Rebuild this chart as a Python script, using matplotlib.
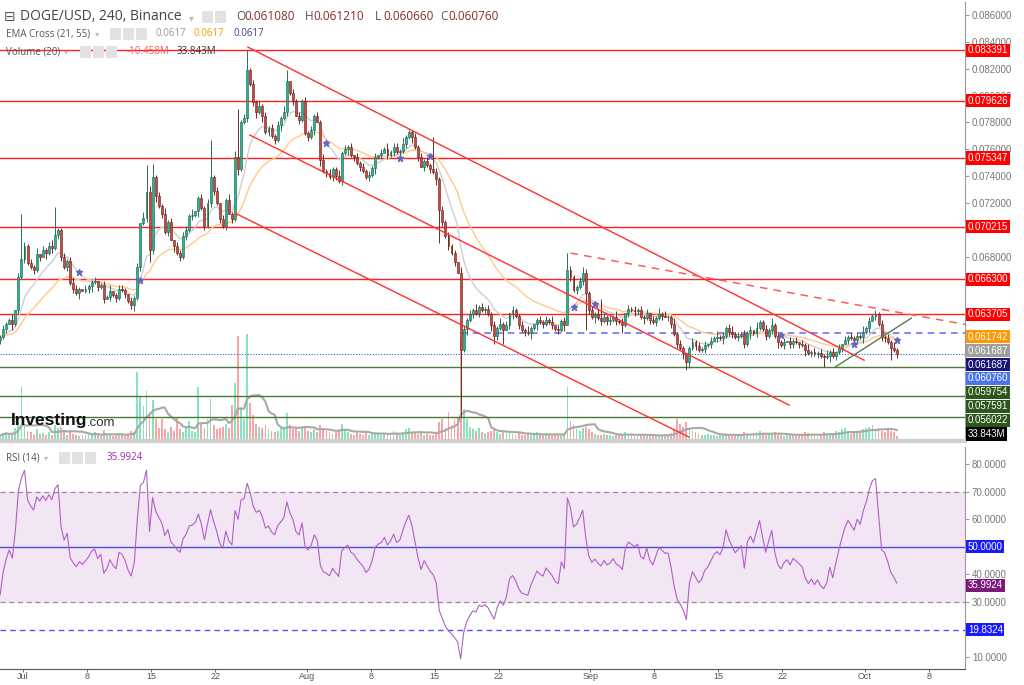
import numpy as np
import pandas as pd
import matplotlib
matplotlib.use('Agg')
import matplotlib.pyplot as plt
import matplotlib.dates as mdates
import matplotlib.ticker as mticker
from matplotlib.patches import Rectangle

plt.rcParams['font.family'] = ['Open Sans', 'DejaVu Sans']

close = [
    6200, 6260, 6300, 6330, 6300, 6400, 6650, 6780, 6880, 6750,
    6720, 6700, 6820, 6800, 6850, 6830, 6880, 6860, 6960, 7000,
    6800, 6720, 6770, 6600, 6560, 6530, 6560, 6540, 6560, 6580,
    6610, 6620, 6570, 6590, 6480, 6500, 6540, 6510, 6490, 6560,
    6550, 6520, 6470, 6440, 6490, 6720, 7050, 7090, 7280, 6850,
    7390, 7250, 7180, 7120, 6980, 7060, 6920, 6880, 6830, 6800,
    6950, 7000, 7100, 7110, 7140, 7240, 7160, 7030, 7200, 7390,
    7290, 7200, 7080, 7030, 7220, 7120, 7080, 7540, 7450, 7800,
    7830, 8190, 8090, 7950, 7880, 7920, 7850, 7730, 7760, 7700,
    7670, 7780, 7830, 7880, 8110, 8020, 7960, 7850, 7820, 7960,
    7720, 7690, 7740, 7850, 7800, 7520, 7440, 7420, 7390, 7450,
    7400, 7360, 7570, 7600, 7620, 7560, 7540, 7500, 7470, 7440,
    7390, 7410, 7460, 7540, 7560, 7570, 7600, 7560, 7580, 7620,
    7580, 7590, 7640, 7690, 7730, 7690, 7620, 7540, 7470, 7510,
    7480, 7450, 7430, 7380, 7150, 7060, 6950, 6880, 6830, 6760,
    6680, 6100, 6260, 6330, 6370, 6400, 6380, 6420, 6400, 6410,
    6370, 6290, 6210, 6270, 6300, 6250, 6290, 6380, 6400, 6360,
    6290, 6250, 6240, 6230, 6270, 6300, 6330, 6310, 6300, 6330,
    6310, 6290, 6260, 6250, 6320, 6290, 6700, 6650, 6550, 6570,
    6620, 6680, 6530, 6400, 6350, 6370, 6340, 6320, 6350, 6320,
    6330, 6350, 6320, 6310, 6290, 6380, 6410, 6400, 6390, 6400,
    6350, 6340, 6380, 6330, 6310, 6340, 6370, 6360, 6350, 6350,
    6300, 6220, 6150, 6120, 6080, 6010, 6120, 6160, 6130, 6100,
    6110, 6140, 6150, 6170, 6190, 6200, 6190, 6210, 6270, 6240,
    6220, 6200, 6210, 6220, 6150, 6230, 6250, 6230, 6270, 6310,
    6260, 6210, 6250, 6290, 6210, 6160, 6140, 6160, 6170, 6150,
    6170, 6160, 6150, 6140, 6100, 6080, 6090, 6070, 6080, 6060,
    6050, 6060, 6090, 6060, 6090, 6120, 6150, 6180, 6200, 6190,
    6180, 6210, 6200, 6240, 6270, 6320, 6360, 6370, 6300, 6200,
    6190, 6160, 6120, 6100, 6076,
]
first_open = 6180

# wick lengths, one digit per bar (units of 0.00015)
up_wick = ("1211302121" "2130212311" "1212321021" "1201213012" "2102120313"
           "2121312021" "2213012123" "1202131321" "2212131212" "1213302121"
           "2121213121" "1312120212" "1212021312" "2131312121" "2102121211"
           "0321213121" "2121312021" "1213101212" "1302120211" "2121213121"
           "2131202121" "2120213121" "1312101212" "1202131212" "3121212031"
           "1213121202" "1202131212" "1312020212" "1213121312" "12131")
dn_wick = ("2120312121" "1212031212" "2121213012" "3121202121" "1212312121"
           "2312120312" "1212131212" "2121202131" "1212313121" "2131212021"
           "1212031212" "2121312121" "1213120212" "1212131202" "1213121212"
           "0213121212" "1312120231" "2121313121" "1212130212" "1202131212"
           "2121312121" "1312121202" "2121313121" "1212021312" "2121213121"
           "1212131202" "2121312121" "2131212021" "1213120212" "21312")
spike_high = {7: 7120, 18: 7170, 48: 7480, 50: 7490, 69: 7670, 78: 7900, 81: 8339,
              94: 8190, 134: 7740, 142: 7690, 186: 6826, 191: 6720, 197: 6480,
              253: 6340, 287: 6400}
spike_low = {49: 6760, 144: 6900, 151: 5600, 162: 6150, 165: 6150, 192: 6250,
             204: 6230, 225: 5953, 270: 5975, 292: 6027}

# volume, millions
volume = [
    40, 55, 60, 45, 50, 90, 160, 370, 120, 70,
    60, 45, 80, 50, 55, 40, 60, 45, 110, 90,
    100, 60, 45, 70, 50, 40, 35, 45, 40, 50,
    45, 60, 40, 35, 75, 45, 40, 35, 50, 45,
    40, 35, 50, 70, 60, 470, 300, 240, 340, 200,
    280, 150, 90, 150, 80, 60, 100, 70, 165, 80,
    60, 90, 140, 70, 60, 370, 120, 90, 150, 290,
    110, 80, 90, 100, 120, 90, 250, 400, 720, 230,
    150, 730, 260, 180, 120, 100, 90, 110, 80, 70,
    60, 70, 90, 80, 190, 110, 80, 90, 70, 100,
    90, 70, 60, 80, 60, 110, 90, 70, 60, 50,
    60, 70, 120, 80, 60, 50, 45, 60, 50, 45,
    60, 45, 50, 60, 55, 45, 50, 40, 45, 70,
    50, 45, 60, 80, 90, 60, 55, 50, 60, 45,
    50, 45, 40, 60, 130, 150, 90, 200, 110, 150,
    160, 700, 220, 150, 100, 80, 70, 90, 60, 55,
    60, 70, 90, 60, 50, 70, 55, 60, 50, 45,
    55, 45, 40, 50, 45, 40, 60, 45, 40, 50,
    45, 40, 50, 45, 40, 45, 370, 140, 110, 80,
    70, 90, 100, 80, 60, 50, 45, 40, 50, 45,
    40, 35, 45, 40, 50, 60, 45, 40, 35, 40,
    45, 40, 35, 40, 45, 40, 35, 40, 45, 40,
    55, 80, 150, 120, 100, 130, 90, 70, 60, 50,
    45, 40, 50, 45, 40, 35, 45, 40, 50, 45,
    40, 35, 45, 50, 60, 45, 40, 45, 60, 70,
    50, 45, 40, 55, 60, 45, 40, 35, 40, 45,
    40, 35, 40, 45, 60, 55, 45, 40, 35, 40,
    60, 50, 45, 55, 70, 60, 80, 90, 60, 50,
    55, 60, 70, 80, 90, 100, 110, 80, 90, 70,
    60, 80, 70, 60, 34,
]

red_levels = [0.083391, 0.079626, 0.075347, 0.070215, 0.066300, 0.063705]
green_levels = [0.059754, 0.057591, 0.056022]
last_price = 0.060760
blue_dash_level = 0.06230
blue_dash_start = '2023-08-17 21:00'

# drawn trend lines: (start, start price, end, end price)
channel_lines = [
    ('2023-07-25 14:00', 0.08362, '2023-09-30 22:00', 0.06027),
    ('2023-07-25 19:00', 0.07706, '2023-09-22 17:30', 0.05692),
    ('2023-07-24 04:00', 0.07124, '2023-09-11 19:00', 0.05453),
]
dashed_line = ('2023-08-29 20:00', 0.06826, '2023-10-12 10:00', 0.06288)
green_trend = ('2023-09-27 18:00', 0.05975, '2023-10-06 02:00', 0.06341)

# EMA cross markers (bar index, price)
cross_idx = [26, 46, 107, 131, 141, 188, 195, 256, 280, 294]
cross_price = [0.06684, 0.06624, 0.07646, 0.07534, 0.07549, 0.06423, 0.06445,
               0.06214, 0.06147, 0.06177]

# RSI: Wilder averages carried in from before the window (gain, loss)
rsi_seed = (0.00010, 0.00024)

price_ticks = np.arange(0.056, 0.0861, 0.002)
rsi_ticks = [10, 30, 40, 50, 60, 70, 80]
x_tick_dates = ['2023-07-01', '2023-07-08', '2023-07-15', '2023-07-22', '2023-08-01',
                '2023-08-08', '2023-08-15', '2023-08-22', '2023-09-01', '2023-09-08',
                '2023-09-15', '2023-09-22', '2023-10-01', '2023-10-08']
x_tick_labels = ['Jul', '8', '15', '22', 'Aug', '8', '15', '22', 'Sep', '8', '15', '22', 'Oct', '8']

# ---- build OHLC ----
t = pd.date_range('2023-06-28 12:00', periods=len(close), freq='8h')
tn = mdates.date2num(t)
c = np.array(close) / 1e5
o = np.r_[first_open / 1e5, c[:-1]]
hi = np.maximum(o, c) + np.array([int(d) for d in up_wick]) * 0.00015
lo = np.minimum(o, c) - np.array([int(d) for d in dn_wick]) * 0.00015
for k, v in spike_high.items():
    hi[k] = v / 1e5
for k, v in spike_low.items():
    lo[k] = v / 1e5
up = c >= o

# indicators (EMA spans halved because bars are 8h instead of 4h)
ema_fast = pd.Series(c).ewm(span=11, adjust=False).mean()
ema_slow = pd.Series(c).ewm(span=28, adjust=False).mean()
vol_ma = pd.Series(volume).rolling(10, min_periods=1).mean()

rsi = []
ag, al = rsi_seed
for dlt in c - o:
    ag = (ag * 13 + max(dlt, 0)) / 14
    al = (al * 13 + max(-dlt, 0)) / 14
    rsi.append(100 - 100 / (1 + ag / al))

# ---- figure ----
fig = plt.figure(figsize=(10.24, 6.85), dpi=100)
main_rect = [0, 0.356, 0.9424, 0.641]
ax_v = fig.add_axes(main_rect)
ax = fig.add_axes(main_rect, sharex=ax_v)
ax.patch.set_visible(False)
ax_v.axis('off')
ax_r = fig.add_axes([0, 0.024, 0.9424, 0.323], sharex=ax_v)

jul1 = mdates.date2num(pd.Timestamp('2023-07-01'))
ax.set_xlim(jul1 - 2.51, jul1 + 102.95)
ax.set_ylim(0.05423, 0.08698)
ax_v.set_ylim(0, 3000)
ax_r.set_ylim(5.8, 86.1)

# volume
ax_v.bar(tn, volume, width=0.2, color=np.where(up, '#86e3bd', '#f7a6a6'), lw=0)
ax_v.plot(tn, vol_ma, color='#a8a8a8', lw=1.5)

# levels
for v in red_levels:
    ax.axhline(v, color='#ff2020', lw=1, zorder=2)
for v in green_levels:
    ax.axhline(v, color='#4a7a34', lw=1, zorder=2)
ax.axhline(last_price, color='#3b5bdb', lw=0.8, ls=(0, (1, 1.5)), zorder=2)
ax.hlines(blue_dash_level, mdates.date2num(pd.Timestamp(blue_dash_start)), ax.get_xlim()[1],
          color='#7070ff', lw=1.2, ls=(0, (4, 3)), zorder=2)

# EMAs
ax.plot(tn, ema_fast, color='#cfcfcf', lw=1, zorder=2)
ax.plot(tn, ema_slow, color='#ffc98a', lw=1, zorder=2)

# candles
ax.vlines(tn, lo, hi, colors=np.where(up, '#2f6e58', '#6e2b27'), lw=0.7, zorder=3)
body = np.where(np.abs(c - o) < 2e-5, 2e-5, c - o)
ax.bar(tn, body, bottom=o, width=0.21, color=np.where(up, '#22b790', '#d0473d'),
       edgecolor=np.where(up, '#1d5846', '#5a1d18'), lw=0.4, zorder=4)

# trend lines
def seg(line, **kw):
    x0, y0, x1, y1 = line
    ax.plot([pd.Timestamp(x0), pd.Timestamp(x1)], [y0, y1], zorder=5, **kw)

for line in channel_lines:
    seg(line, color='#ff3030', lw=1)
seg(dashed_line, color='#ff5a5a', lw=1.1, ls=(0, (5, 4)))
seg(green_trend, color='#5a7a4a', lw=1)

ax.plot(tn[cross_idx], cross_price, ls='none', marker='*', ms=5, color='#6464c8', zorder=6)

# right-side value boxes, stacked so they do not overlap
main_boxes = [(v, '%.6f' % v, '#ff0000') for v in red_levels]
main_boxes += [(0.061742, '0.061742', '#ff9800'), (0.061687, '0.061687', '#9e9e9e'),
               (0.061687, '0.061687', '#16167a'), (last_price, '0.060760', '#4a74e8')]
main_boxes += [(v, '%.6f' % v, '#2d561b') for v in green_levels]
px = [ax.transData.transform((0, b[0]))[1] for b in main_boxes]
px.append(ax_v.transData.transform((0, 33.843))[1])
main_boxes.append((None, '33.843M', '#000000'))
gap, low_px = 13.9, fig.bbox.height - 434
for i in range(1, len(px)):
    px[i] = min(px[i], px[i - 1] - gap)
px[-1] = max(px[-1], low_px)
for i in range(len(px) - 2, -1, -1):
    px[i] = max(px[i], px[i + 1] + gap)

# tick labels that sit right under a box are hidden, as on the original
def hide_covered(a, centers, fmt):
    def f(v, pos):
        p = a.transData.transform((0, v))[1]
        if min(abs(p - q) for q in centers) < 4.5:
            return ''
        return fmt % v
    return mticker.FuncFormatter(f)

# axes styling
for a in (ax, ax_r):
    for s in ('top', 'left', 'bottom'):
        a.spines[s].set_visible(False)
    a.spines['right'].set_color('#9a9a9a')
    a.yaxis.tick_right()
    a.tick_params(axis='y', colors='#9a9a9a', labelcolor='#777777', length=3, pad=2,
                  labelsize=7)
ax.spines['bottom'].set_visible(True)
ax.spines['bottom'].set_color('#cfcfcf')
ax.spines['bottom'].set_linewidth(3)
ax.tick_params(axis='x', bottom=False, labelbottom=False)
ax.set_yticks(price_ticks)
ax.yaxis.set_major_formatter(hide_covered(ax, px, '%.6f'))

# RSI panel
rsi_boxes = [(50, '50.0000', '#1a1aff'), (35.9924, '35.9924', '#7a1a7a'),
             (19.8324, '19.8324', '#1a1aff')]
ax_r.axhspan(30, 70, color='#f3e6f4', zorder=0)
ax_r.axhline(70, color='#909090', lw=0.9, ls=(0, (4, 3)))
ax_r.axhline(30, color='#909090', lw=0.9, ls=(0, (4, 3)))
ax_r.axhline(50, color='#4b4bd8', lw=1)
ax_r.axhline(19.8324, color='#5050ff', lw=1, ls=(0, (4, 3)))
ax_r.plot(tn, rsi, color='#b060c4', lw=0.8)
ax_r.set_yticks(rsi_ticks)
rsi_px = [ax_r.transData.transform((0, b[0]))[1] for b in rsi_boxes]
ax_r.yaxis.set_major_formatter(hide_covered(ax_r, rsi_px, '%.4f'))
ax_r.spines['bottom'].set_visible(True)
ax_r.spines['bottom'].set_color('#555555')
ax_r.set_xticks(mdates.date2num(pd.to_datetime(x_tick_dates)))
ax_r.set_xticklabels(x_tick_labels)
ax_r.tick_params(axis='x', colors='#777777', labelcolor='#555555', length=2, pad=0.5,
                 labelsize=6.5)
for lbl in (ax.get_yticklabels() + ax_r.get_yticklabels() + ax_r.get_xticklabels()):
    lbl.set_family('Liberation Sans')

inv = ax.transData.inverted()
box_style = dict(boxstyle='square,pad=0.16')
for (v, txt, col), p in zip(main_boxes, px):
    y = inv.transform((0, p))[1]
    ax.text(1.003, y, txt, transform=ax.get_yaxis_transform(), color='white', fontsize=7,
            family='Liberation Sans', va='center', ha='left', zorder=10, clip_on=False,
            bbox=dict(fc=col, ec='none', **box_style))

for v, txt, col in rsi_boxes:
    ax_r.text(1.003, v, txt, transform=ax_r.get_yaxis_transform(), color='white',
              fontsize=7, family='Liberation Sans', va='center', ha='left', zorder=10,
              clip_on=False, bbox=dict(fc=col, ec='none', **box_style))

# header texts
W, H = 1024, 685
def ftext(x, y, s, **kw):
    fig.text(x / W, 1 - y / H, s, va='center', ha='left', **kw)

def icons(x0, y, n):
    for k in range(n):
        fig.add_artist(Rectangle(((x0 + 13 * k) / W, 1 - (y + 6) / H), 11 / W, 12 / H,
                                 transform=fig.transFigure, fc='#e2e2e2', ec='none'))

ftext(4, 17, '\u229f', fontsize=10, color='#555555', family='DejaVu Sans')
ftext(20, 17, 'DOGE/USD, 240, Binance', fontsize=10, color='#444444')
ftext(189, 18, '\u25be', fontsize=7, color='#bbbbbb', family='DejaVu Sans')
icons(202, 17, 2)
ohlc = [('O', '0.061080', 236), ('H', '0.061210', 305), ('L', '0.060660', 375), ('C', '0.060760', 440)]
for letter, val, x0 in ohlc:
    ftext(x0, 17, letter, fontsize=8.5, color='#555555')
    ftext(x0 + 8, 17, val, fontsize=8.5, color='#8b2a2a')

ftext(6, 34, 'EMA Cross (21, 55)', fontsize=7, color='#555555')
ftext(95, 34, '\u25be', fontsize=6, color='#bbbbbb', family='DejaVu Sans')
icons(110, 34, 3)
ftext(155, 34, '0.0617', fontsize=7, color='#999999')
ftext(194, 34, '0.0617', fontsize=7, color='#ff9800')
ftext(234, 34, '0.0617', fontsize=7, color='#3c3ca0')

ftext(6, 52, 'Volume (20)', fontsize=7, color='#555555')
ftext(64, 52, '\u25be', fontsize=6, color='#bbbbbb', family='DejaVu Sans')
icons(80, 52, 3)
ftext(127, 52, '-10.458M', fontsize=7, color='#ff5a5a')
ftext(177, 52, '33.843M', fontsize=7, color='#333333')

ftext(6, 458, 'RSI (14)', fontsize=7, color='#555555')
ftext(44, 458, '\u25be', fontsize=6, color='#bbbbbb', family='DejaVu Sans')
icons(59, 458, 3)
ftext(107, 458, '35.9924', fontsize=7, color='#9c27b0')

ftext(11, 420, 'Investing', fontsize=12.5, fontweight='bold', color='#111111',
      family='Liberation Sans')
ftext(87, 423, '.com', fontsize=9.5, color='#333333', family='Liberation Sans')

fig.savefig('out.png', dpi=100, facecolor='white')
